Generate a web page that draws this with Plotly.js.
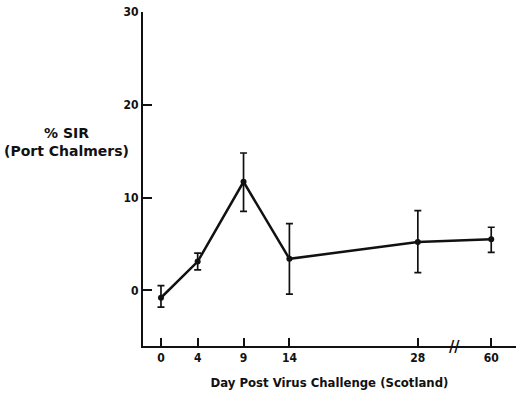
<!DOCTYPE html>
<html>
<head>
<meta charset="utf-8">
<script src="https://cdn.plot.ly/plotly-3.0.1.min.js"></script>
<style>html,body{margin:0;padding:0;background:#fff;}#chart{width:516px;height:397px;}</style>
</head>
<body>
<div id="chart"></div>
<script>
// Day labels and their plotted positions (axis break between 28 and 60)
var dayLabels = ["0", "4", "9", "14", "28", "60"];
var dayPositions = [0, 4, 9, 14, 28, 36];
var sirValues = [-0.8, 3.1, 11.7, 3.4, 5.2, 5.5];
var errPlus = [1.3, 0.9, 3.1, 3.8, 3.4, 1.3];
var errMinus = [1.0, 0.9, 3.2, 3.8, 3.3, 1.4];
var yTicks = [0, 10, 20, 30];

var font = "DejaVu Sans Condensed, Liberation Sans Narrow, Arial Narrow, sans-serif";
var wideFont = "DejaVu Sans, Liberation Sans, Arial, sans-serif";

var trace = {
  x: dayPositions,
  y: sirValues,
  mode: "lines+markers",
  type: "scatter",
  line: {color: "#111", width: 2.5},
  marker: {color: "#111", size: 6},
  cliponaxis: false,
  error_y: {
    type: "data",
    symmetric: false,
    array: errPlus,
    arrayminus: errMinus,
    color: "#111",
    thickness: 1.7,
    width: 3.5
  },
  hoverinfo: "skip"
};

var layout = {
  width: 516,
  height: 397,
  margin: {l: 143, r: 0, t: 12, b: 51},
  paper_bgcolor: "#fff",
  plot_bgcolor: "#fff",
  showlegend: false,
  font: {family: font, size: 12, color: "#111", weight: "bold"},
  xaxis: {
    range: [-1.96, 38.7],
    tickmode: "array",
    tickvals: dayPositions,
    ticktext: dayLabels,
    ticks: "inside",
    ticklen: 8,
    tickwidth: 2,
    tickcolor: "#111",
    showline: true,
    linecolor: "#111",
    linewidth: 2,
    showgrid: false,
    zeroline: false,
    tickfont: {family: font, size: 12, color: "#111", weight: "bold"},
    title: {text: "Day Post Virus Challenge (Scotland)", font: {family: font, size: 13, color: "#111", weight: "bold"}, standoff: 13}
  },
  yaxis: {
    range: [-6, 30],
    tickmode: "array",
    tickvals: yTicks,
    ticks: "inside",
    ticklen: 9,
    tickwidth: 2,
    tickcolor: "#111",
    showline: true,
    linecolor: "#111",
    linewidth: 2,
    showgrid: false,
    zeroline: false,
    tickfont: {family: font, size: 12, color: "#111", weight: "bold"}
  },
  annotations: [
    {xref: "paper", yref: "paper", x: -0.206, y: 0.612, text: "% SIR<br>(Port Chalmers)", showarrow: false,
     xanchor: "center", yanchor: "middle", align: "center", font: {family: wideFont, size: 14, color: "#111", weight: "bold"}},
    {xref: "x", yref: "y", x: 32, y: -6, text: "//", showarrow: false, xanchor: "center", yanchor: "middle",
     font: {family: font, size: 16, color: "#111", weight: "bold"}}
  ]
};

Plotly.newPlot("chart", [trace], layout, {staticPlot: true, displayModeBar: false});
</script>
</body>
</html>
